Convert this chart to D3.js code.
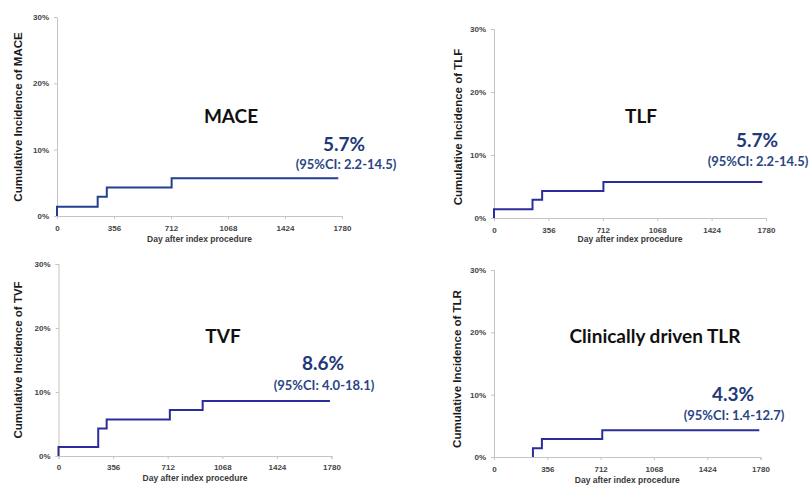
<!DOCTYPE html>
<html><head><meta charset="utf-8">
<script src="https://cdn.jsdelivr.net/npm/d3@7"></script>
<style>
body{margin:0;background:#fff;}
svg{display:block;}
</style></head>
<body><svg id="c" width="811" height="486"></svg>
<script>
// ---- data ----
const xTicks = [0, 356, 712, 1068, 1424, 1780];
const yTicks = [0, 10, 20, 30];
const titles = ["MACE", "TLF", "TVF", "Clinically driven TLR"];
const yLabels = ["Cumulative Incidence of MACE", "Cumulative Incidence of TLF", "Cumulative Incidence of TVF", "Cumulative Incidence of TLR"];
const rates = ["5.7%", "5.7%", "8.6%", "4.3%"];
const cis = ["(95%CI: 2.2-14.5)", "(95%CI: 2.2-14.5)", "(95%CI: 4.0-18.1)", "(95%CI: 1.4-12.7)"];
// step points: [day, cumulative incidence %]
const maceSteps = [[0,0],[0,1.4],[254,2.9],[311,4.3],[716,5.7],[1757,5.7]];
const tlfSteps  = [[0,0],[0,1.4],[252,2.9],[315,4.3],[716,5.7],[1756,5.7]];
const tvfSteps  = [[0,0],[0,1.4],[259,4.3],[314,5.7],[726,7.2],[940,8.6],[1770,8.6]];
const tlrSteps  = [[260,0],[260,1.4],[320,2.9],[723,4.3],[1772,4.3]];
const xTitle = "Day after index procedure";

// ---- layout (positions only) ----
const layout = [
  {x0:57, x1:342, yTop:17, yBot:216, yl:18, ylc:117, tx:231, ty:123, rx:344, ry:150.5, cx:346, cy:169, tlY:228, xtY:242, color:"#23408e"},
  {x0:494, x1:766, yTop:29, yBot:218, yl:458, ylc:127, tx:641, ty:123, rx:757, ry:146.5, cx:758, cy:165.5, tlY:229.5, xtY:242, color:"#2b2e9a"},
  {x0:58.5, x1:331.5, yTop:264, yBot:456, yl:18, ylc:360, tx:223, ty:343, rx:323, ry:370, cx:324, cy:389.5, tlY:467, xtY:481, color:"#2b2e9a"},
  {x0:494, x1:760.5, yTop:270, yBot:457, yl:457, ylc:369, tx:655, ty:343, rx:733, ry:401, cx:734, cy:419.5, tlY:469, xtY:483, color:"#2b2e9a"}
];
const stepsAll = [maceSteps, tlfSteps, tvfSteps, tlrSteps];

const svg = d3.select("#c");
const axisFont = "'Liberation Sans', Arial, sans-serif";
const annFont = "Lato, 'Open Sans', sans-serif";

layout.forEach((L, i) => {
  const x = d3.scaleLinear().domain([0, 1780]).range([L.x0, L.x1]);
  const y = d3.scaleLinear().domain([0, 30]).range([L.yBot, L.yTop]);
  const g = svg.append("g");

  // y axis
  const ya = g.append("g").attr("transform", `translate(${L.x0},0)`)
    .call(d3.axisLeft(y).tickValues(yTicks).tickFormat(d => d + "%").tickSize(3).tickPadding(5));
  // x axis
  const xa = g.append("g").attr("transform", `translate(0,${L.yBot})`)
    .call(d3.axisBottom(x).tickValues(xTicks).tickFormat(d3.format("d")).tickSize(3).tickPadding(3));
  [ya, xa].forEach(a => {
    a.select(".domain").attr("stroke", "#c4c4c4").attr("stroke-width", 1);
    a.selectAll(".tick line").attr("stroke", "#c4c4c4");
    a.selectAll("text").attr("font-family", axisFont).attr("font-size", 8).attr("font-weight", "bold").attr("fill", "#444");
  });
  xa.selectAll("text").attr("y", null).attr("dy", null)
    .attr("transform", `translate(0,${L.tlY - L.yBot + 3})`);

  // x title
  g.append("text").attr("x", (L.x0 + L.x1) / 2).attr("y", L.xtY)
    .attr("text-anchor", "middle").attr("font-family", axisFont).attr("font-size", 8.5)
    .attr("font-weight", "bold").attr("fill", "#3a3a3a").text(xTitle);

  // y title
  g.append("text").attr("transform", `translate(${L.yl + 4},${L.ylc}) rotate(-90)`)
    .attr("text-anchor", "middle").attr("font-family", axisFont).attr("font-size", 11.5)
    .attr("font-weight", "bold").attr("fill", "#1a1a1a").text(yLabels[i]);

  // step line
  const line = d3.line().x(d => x(d[0])).y(d => y(d[1])).curve(d3.curveStepAfter);
  g.append("path").datum(stepsAll[i]).attr("d", line)
    .attr("fill", "none").attr("stroke", L.color).attr("stroke-width", 2);

  // annotations
  g.append("text").attr("x", L.tx).attr("y", L.ty).attr("text-anchor", "middle")
    .attr("font-family", annFont).attr("font-weight", "bold").attr("font-size", 19)
    .attr("fill", "#111").text(titles[i]);
  g.append("text").attr("x", L.rx).attr("y", L.ry).attr("text-anchor", "middle")
    .attr("font-family", annFont).attr("font-weight", "bold").attr("font-size", 19)
    .attr("fill", "#1f3a78").text(rates[i]);
  g.append("text").attr("x", L.cx).attr("y", L.cy).attr("text-anchor", "middle")
    .attr("font-family", annFont).attr("font-weight", "bold").attr("font-size", 13)
    .attr("fill", "#2a4585").text(cis[i]);
});
</script>
</body></html>
